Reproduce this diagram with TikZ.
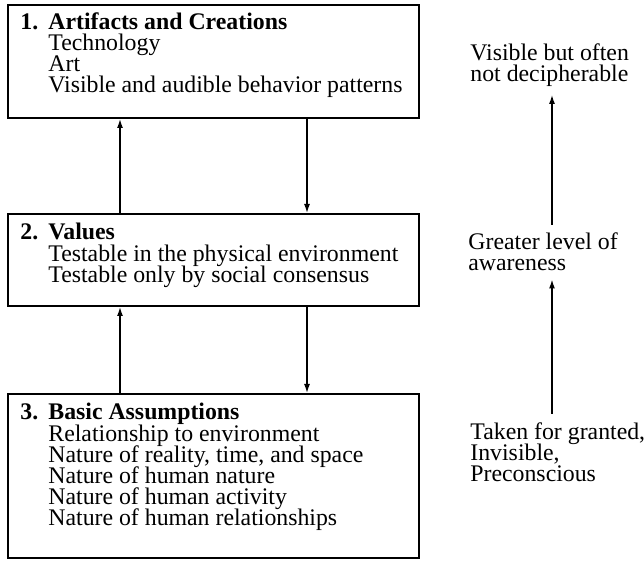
\documentclass[tikz,border=0pt]{standalone}
\usepackage{fontspec}
\setmainfont{Liberation Serif}
\usetikzlibrary{arrows.meta}
\newcommand{\tightfont}{\fontsize{11.9}{10.6}\selectfont\lineskiplimit=-20pt\relax}
\tikzset{
  layerbox/.style={draw,line width=1pt,anchor=north west,inner sep=0pt,minimum width=205.5pt},
  layertext/.style={anchor=north west,inner sep=0pt,align=left},
  sidetext/.style={anchor=west,inner xsep=0pt,inner ysep=4pt,align=left},
  flow/.style={-{Latex[length=4.5pt,width=3pt]},line width=.7pt},
}
\newcommand{\layerhead}[2]{\makebox[14pt][l]{\bfseries #1}\textbf{#2}}
\newcommand{\layeritem}[1]{\hspace*{14pt}#1}

\begin{document}
\begin{tikzpicture}[x=.5pt,y=-.5pt,font=\tightfont]
\path[use as bounding box] (0,0) rectangle (644,561);
% the three levels
\node[layerbox,minimum height=56.5pt] (artifacts) at (7,4) {};
\node[layerbox,minimum height=46pt] (values) at (7,213) {};
\node[layerbox,minimum height=82pt] (assumptions) at (7,393) {};

\node[layertext] (artifacts-list) at ([xshift=6.5pt,yshift=-4pt]artifacts.north west)
  {\layerhead{1.}{Artifacts and Creations}\\
   \layeritem{Technology}\\
   \layeritem{Art}\\
   \layeritem{Visible and audible behavior patterns}};
\node[layertext] (values-list) at ([xshift=6.5pt,yshift=-5pt]values.north west)
  {\layerhead{2.}{Values}\\
   \layeritem{Testable in the physical environment}\\
   \layeritem{Testable only by social consensus}};
\node[layertext] (assumptions-list) at ([xshift=6.5pt,yshift=-5pt]assumptions.north west)
  {\layerhead{3.}{Basic Assumptions}\\
   \layeritem{Relationship to environment}\\
   \layeritem{Nature of reality, time, and space}\\
   \layeritem{Nature of human nature}\\
   \layeritem{Nature of human activity}\\
   \layeritem{Nature of human relationships}};

% arrows between levels
\coordinate (up) at (120,0);
\coordinate (down) at (307,0);
\draw[flow] (values.north -| up) -- (artifacts.south -| up);
\draw[flow] (artifacts.south -| down) -- (values.north -| down);
\draw[flow] (assumptions.north -| up) -- (values.south -| up);
\draw[flow] (values.south -| down) -- (assumptions.north -| down);

% awareness scale
\node[sidetext] (visible) at (470,65) {Visible but often\\not decipherable};
\node[sidetext] (awareness) at (468,252) {Greater level of\\awareness};
\node[sidetext] (granted) at (470,452) {Taken for granted,\\Invisible,\\Preconscious};
\coordinate (axis) at (552,0);
\draw[flow] (awareness.north -| axis) -- (visible.south -| axis);
\draw[flow] (granted.north -| axis) -- (awareness.south -| axis);
\end{tikzpicture}
\end{document}
